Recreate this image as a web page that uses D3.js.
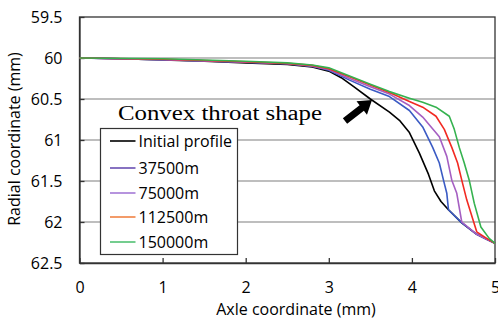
<!DOCTYPE html>
<html>
<head>
<meta charset="utf-8">
<script src="https://cdn.jsdelivr.net/npm/d3@7"></script>
<style>
  body { margin: 0; background: #fff; }
  text { font-family: "Open Sans", sans-serif; fill: #000; }
</style>
</head>
<body>
<div id="chart"></div>
<script>
// profile series, [axle mm, radial mm]
var initialProfile = [[0,60],[0.5,60.01],[1,60.025],[1.5,60.04],[2,60.06],[2.5,60.08],[2.8,60.11],[3.0,60.16],[3.15,60.24],[3.3,60.35],[3.5,60.5],[3.73,60.66],[3.85,60.76],[3.97,60.91],[4.09,61.16],[4.2,61.42],[4.27,61.62],[4.35,61.75],[4.44,61.85],[4.6,62.01],[4.78,62.15],[4.9,62.21],[5,62.26]];
var p37500 = [[0,60],[1,60.02],[2,60.05],[2.5,60.07],[2.8,60.1],[3.0,60.15],[3.25,60.27],[3.5,60.38],[3.73,60.47],[3.97,60.64],[4.13,60.84],[4.25,61.09],[4.33,61.28],[4.38,61.49],[4.42,61.65],[4.44,61.85],[4.6,62.01],[4.78,62.15],[4.9,62.21],[5,62.26]];
var p75000 = [[0,60],[1,60.02],[2,60.05],[2.5,60.07],[2.8,60.1],[3.0,60.14],[3.25,60.25],[3.5,60.35],[3.73,60.44],[3.97,60.58],[4.13,60.72],[4.33,60.96],[4.42,61.2],[4.48,61.49],[4.54,61.65],[4.6,62.0],[4.78,62.15],[4.9,62.21],[5,62.26]];
var p112500 = [[0,60],[1,60.015],[2,60.045],[2.5,60.065],[2.8,60.09],[3.0,60.13],[3.25,60.23],[3.5,60.33],[3.73,60.42],[3.97,60.53],[4.13,60.6],[4.29,60.71],[4.39,60.87],[4.48,61.09],[4.55,61.28],[4.6,61.49],[4.66,61.73],[4.78,62.12],[4.9,62.2],[5,62.26]];
var p150000 = [[0,60],[1,60.01],[2,60.04],[2.5,60.06],[2.8,60.085],[3.0,60.12],[3.25,60.22],[3.5,60.32],[3.73,60.41],[3.97,60.49],[4.13,60.54],[4.29,60.6],[4.45,60.71],[4.51,60.87],[4.57,61.09],[4.63,61.28],[4.69,61.49],[4.75,61.77],[4.83,62.06],[4.93,62.2],[5,62.26]];

var seriesNames = ["Initial profile","37500m","75000m","112500m","150000m"];
var lineColors = ["#000000","#3b5bc4","#a55fc2","#f22a22","#35b24f"];
var legendColors = ["#000000","#6a4fb2","#a47ad6","#f08244","#52c173"];
var xTicks = [0,1,2,3,4,5];
var yTicks = [59.5,60,60.5,61,61.5,62,62.5];

var allSeries = [initialProfile,p37500,p75000,p112500,p150000];

var W = 498, H = 320,
    margin = {top: 17, right: 3, bottom: 57, left: 79.5},
    width = W - margin.left - margin.right,
    height = H - margin.top - margin.bottom;

var svg = d3.select("#chart").append("svg").attr("width",W).attr("height",H);
var g = svg.append("g").attr("transform","translate("+margin.left+","+margin.top+")");

var x = d3.scaleLinear().domain([0,5]).range([0,width]);
var y = d3.scaleLinear().domain([59.5,62.5]).range([0,height]);

// gridlines
g.append("g").selectAll("line")
  .data(yTicks.filter(function(d){ return d>59.5 && d<62.5; }))
  .enter().append("line")
  .attr("x1",0).attr("x2",width)
  .attr("y1",function(d){ return y(d); }).attr("y2",function(d){ return y(d); })
  .attr("stroke","#a8a8a8").attr("stroke-width",1.5);

// frame
g.append("rect").attr("x",0).attr("y",0).attr("width",width).attr("height",height)
  .attr("fill","none").attr("stroke","#333").attr("stroke-width",1.3);

// axes with inward ticks
var xAxis = g.append("g").attr("transform","translate(0,"+height+")")
  .call(d3.axisBottom(x).tickValues(xTicks).tickSizeInner(-5).tickSizeOuter(0).tickPadding(19).tickFormat(d3.format("d")));
var yAxis = g.append("g")
  .call(d3.axisLeft(y).tickValues(yTicks).tickSizeInner(-5).tickSizeOuter(0).tickPadding(17).tickFormat(function(d){ return String(d); }));
[xAxis,yAxis].forEach(function(a){
  a.select(".domain").attr("stroke","#333").attr("stroke-width",1.3);
  a.selectAll(".tick line").attr("stroke","#333").attr("stroke-width",1.3);
  a.selectAll("text").attr("font-size","16px").attr("font-family","Open Sans, sans-serif").attr("fill","#000");
});

// curves
var line = d3.line().x(function(d){ return x(d[0]); }).y(function(d){ return y(d[1]); });
g.append("g").selectAll("path")
  .data(allSeries)
  .enter().append("path")
  .attr("d",line)
  .attr("fill","none")
  .attr("stroke",function(d,i){ return lineColors[i]; })
  .attr("stroke-width",1.6)
  .attr("stroke-linejoin","round");

// annotation
svg.append("text").attr("x",118).attr("y",120)
  .attr("font-size","20px")
  .attr("textLength",204).attr("lengthAdjust","spacingAndGlyphs")
  .style("font-family","'Liberation Serif', serif")
  .text("Convex throat shape");

// arrow pointing to throat
var ax0 = 345, ay0 = 121, ax1 = 372, ay1 = 100;
var ang = Math.atan2(ay1-ay0, ax1-ax0);
var len = Math.hypot(ax1-ax0, ay1-ay0);
var arrowPts = [[0,-3.5],[len-13,-3.5],[len-13,-8.5],[len,0],[len-13,8.5],[len-13,3.5],[0,3.5]];
svg.append("polygon")
  .attr("points",arrowPts.map(function(p){ return p.join(","); }).join(" "))
  .attr("transform","translate("+ax0+","+ay0+") rotate("+(ang*180/Math.PI)+")")
  .attr("fill","#000");

// legend
var lg = svg.append("g").attr("transform","translate(100.5,128.5)");
lg.append("rect").attr("width",137).attr("height",126).attr("fill","#fff").attr("stroke","#333").attr("stroke-width",1.2);
var rows = [12.5,39.5,64.5,88.5,113.5];
var item = lg.selectAll("g.item").data(seriesNames).enter().append("g")
  .attr("transform",function(d,i){ return "translate(0,"+rows[i]+")"; });
item.append("line").attr("x1",9.5).attr("x2",35).attr("y1",0).attr("y2",0)
  .attr("stroke",function(d,i){ return legendColors[i]; }).attr("stroke-width",1.6);
item.append("text").attr("x",38).attr("y",0).attr("dy","0.35em")
  .attr("font-size","16px").text(function(d){ return d; });

// axis titles
svg.append("text").attr("x",296).attr("y",315).attr("text-anchor","middle")
  .attr("font-size","16px").text("Axle coordinate (mm)");
svg.append("text").attr("transform","translate(20,139) rotate(-90)").attr("text-anchor","middle")
  .attr("font-size","16px").text("Radial coordinate (mm)");
</script>
</body>
</html>
